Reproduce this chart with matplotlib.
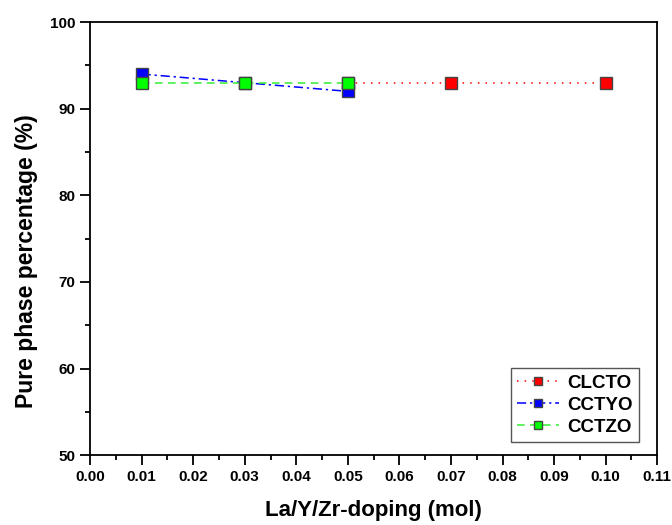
import matplotlib
matplotlib.use("Agg")
import matplotlib.pyplot as plt
from matplotlib.ticker import MultipleLocator

plt.rcParams['font.family'] = ['Liberation Sans', 'DejaVu Sans']
plt.rcParams['font.weight'] = 'bold'

# data
x_clcto = [0.05, 0.07, 0.10]
y_clcto = [93, 93, 93]
x_cctyo = [0.01, 0.03, 0.05]
y_cctyo = [94, 93, 92]
x_cctzo = [0.01, 0.03, 0.05]
y_cctzo = [93, 93, 93]

fig = plt.figure(figsize=(6.72, 5.25), dpi=100)
ax = fig.add_axes([0.134, 0.133, 0.844, 0.825])

mk = dict(marker='s', markersize=8.5, markeredgecolor='#444444', markeredgewidth=1.0, linewidth=1.1)
ax.plot(x_clcto, y_clcto, linestyle=(0, (1, 4)), color='red', markerfacecolor='red', label='CLCTO', **mk)
ax.plot(x_cctyo, y_cctyo, linestyle=(0, (6, 2.5, 1.5, 2.5)), color='blue', markerfacecolor='blue', label='CCTYO', **mk)
ax.plot(x_cctzo, y_cctzo, linestyle=(0, (5, 3.5)), color='#33ee33', markerfacecolor='#00ff00', label='CCTZO', **mk)

ax.set_xlim(0, 0.11)
ax.set_ylim(50, 100)
ax.xaxis.set_major_locator(MultipleLocator(0.01))
ax.xaxis.set_minor_locator(MultipleLocator(0.005))
ax.yaxis.set_major_locator(MultipleLocator(10))
ax.yaxis.set_minor_locator(MultipleLocator(5))
ax.set_xticklabels([f"{v:.2f}" for v in ax.get_xticks()])
ax.tick_params(which='major', direction='out', length=7, width=1.3, labelsize=11)
ax.tick_params(which='minor', direction='out', length=3.5, width=1.3)
ax.tick_params(top=False, right=False)
for s in ax.spines.values():
    s.set_linewidth(1.3)

ax.set_xlabel('La/Y/Zr-doping (mol)', fontsize=16, fontweight='bold', labelpad=12)
ax.set_ylabel('Pure phase percentage (%)', fontsize=16.5, fontweight='bold', labelpad=10)
ax.yaxis.set_label_coords(-0.092, 0.448)

leg = ax.legend(loc='lower right', fontsize=13.5, fancybox=False, framealpha=1,
                edgecolor='#555555', handlelength=2.2, handletextpad=0.45,
                borderpad=0.35, labelspacing=0.25, markerscale=0.65,
                borderaxespad=0, bbox_to_anchor=(0.968, 0.030))
leg.get_frame().set_linewidth(1.0)

fig.savefig('out.png', dpi=100)
